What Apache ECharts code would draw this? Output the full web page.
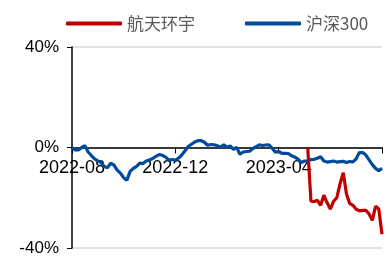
<!DOCTYPE html>
<html>
<head>
<meta charset="utf-8">
<script src="https://cdn.jsdelivr.net/npm/echarts@6/dist/echarts.min.js"></script>
<style>
  html, body { margin: 0; padding: 0; background: #fff; }
  #chart { width: 387px; height: 259px; }
</style>
</head>
<body>
<div id="chart"></div>
<script>
// month labels on the x axis, 8 samples per month from 2022-08 to 2023-08
const months = ['2022-08', '2022-09', '2022-10', '2022-11', '2022-12', '2023-01',
  '2023-02', '2023-03', '2023-04', '2023-05', '2023-06', '2023-07', '2023-08']
const perMonth = 8
const labelMonths = ['2022-08', '2022-12', '2023-04']

// 沪深300 cumulative return (%)
const hs300 = [
  0, -1.0, -1.0, 0.0, 0.7, -1.8, -3.2, -4.5, -5.3, -6.0,
  -7.6, -8.0, -6.2, -7.0, -9.0, -10.2, -12.0, -13.0, -9.5, -8.3,
  -7.5, -6.2, -6.4, -5.4, -5.0, -4.4, -3.5, -2.8, -3.1, -3.8,
  -5.0, -4.8, -5.1, -4.2, -3.0, -1.3, 0.4, 1.3, 2.2, 2.7,
  2.7, 2.1, 0.9, 1.2, 1.1, 0.7, 0.2, 1.1, 0.1, 0.6,
  -0.7, 0, -2.7, -1.8, -1.6, -1.5, -0.4, 0.3, 1.1, 0.8,
  1.0, 1.1, -0.3, -1.9, -1.5, -2.3, -2.3, -2.4, -3.3, -3.8,
  -4.6, -6.0, -5.4, -5.3, -4.8, -4.7, -4.3, -3.7, -5.4, -5.8,
  -5.6, -5.4, -5.8, -5.6, -5.5, -6.0, -5.6, -5.7, -4.5, -2.0,
  -2.0, -3.0, -4.9, -6.8, -8.3, -9.2, -8.3
]

// 航天环宇 cumulative return (%), listed later so starts at index 73
const htStart = 73
const htValues = [
  0, -21.4, -21.5, -21, -23, -19, -22, -24.5, -21.4, -20,
  -14.5, -10, -18.5, -22.3, -23, -24.6, -25.2, -25, -25, -26.5,
  -29, -23.4, -24.5, -34.5
]

const yTicks = [-40, 0, 40]

const categories = []
months.forEach((m, k) => {
  const n = k === months.length - 1 ? 1 : perMonth
  for (let j = 0; j < n; j++) categories.push(j === 0 ? m : m + '#' + j)
})
const htData = categories.map((c, i) => (i < htStart ? null : htValues[i - htStart]))

const gridTop = 47
const gridBottom = 11
const plotH = 259 - gridTop - gridBottom

const chart = echarts.init(document.getElementById('chart'))
chart.setOption({
  animation: false,
  legend: {
    data: [
      { name: '航天环宇', icon: 'roundRect' },
      { name: '沪深300', icon: 'roundRect' }
    ],
    left: 61,
    top: 10,
    itemWidth: 56,
    itemHeight: 4,
    itemGap: 50,
    textStyle: {
      color: '#595959',
      fontSize: 17,
      fontFamily: 'Noto Sans CJK SC'
    }
  },
  grid: {
    left: 72,
    right: 5,
    top: gridTop,
    bottom: gridBottom,
    containLabel: false,
    outerBoundsMode: 'none'
  },
  xAxis: {
    type: 'category',
    data: categories,
    boundaryGap: false,
    // put the axis on the 0% line
    offset: -plotH / 2,
    axisLine: { onZero: false, lineStyle: { color: '#000', width: 1.5 } },
    axisTick: {
      length: 6,
      lineStyle: { color: '#000' },
      interval: (i) => i % (perMonth * 4) === 0
    },
    axisLabel: {
      margin: 12,
      color: '#000',
      fontSize: 18,
      fontFamily: 'Liberation Sans',
      interval: (i, v) => labelMonths.indexOf(v) >= 0,
      formatter: (v) => v
    },
    splitLine: { show: false }
  },
  yAxis: {
    type: 'value',
    min: yTicks[0],
    max: yTicks[yTicks.length - 1],
    interval: 40,
    axisLine: { show: true, lineStyle: { color: '#000', width: 1.5 } },
    axisTick: { show: true, length: 5, lineStyle: { color: '#000' } },
    axisLabel: {
      margin: 13,
      color: '#000',
      fontSize: 17,
      fontFamily: 'Liberation Sans',
      formatter: (v) => v + '%'
    },
    splitLine: { show: true, lineStyle: { color: '#d9d9d9', width: 1.5 } }
  },
  series: [
    {
      name: '沪深300',
      type: 'line',
      data: hs300,
      symbol: 'none',
      lineStyle: { color: '#004b9e', width: 3.2 },
      itemStyle: { color: '#004b9e' }
    },
    {
      name: '航天环宇',
      type: 'line',
      data: htData,
      symbol: 'none',
      lineStyle: { color: '#c00000', width: 3.2 },
      itemStyle: { color: '#c00000' }
    }
  ]
})
</script>
</body>
</html>
